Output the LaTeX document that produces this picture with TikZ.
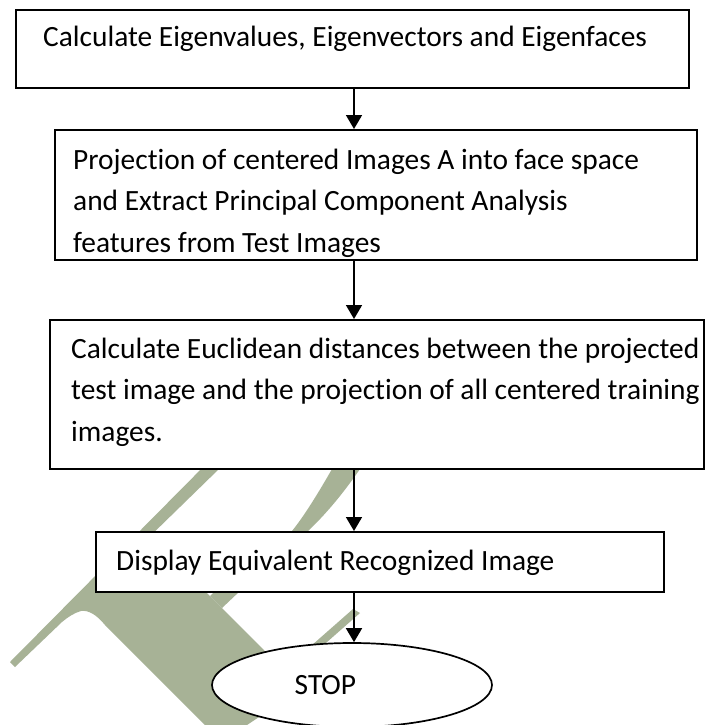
\documentclass[tikz,border=0pt]{standalone}
\usepackage{fontspec}
\setmainfont{Carlito}[Ligatures={NoCommon,NoContextual}]
\usetikzlibrary{arrows.meta,shapes.geometric}
\definecolor{wmgreen}{RGB}{167,178,150}

\begin{document}
\begin{tikzpicture}[x=1pt,y=-1pt,
  flowbox/.style={draw=black, fill=white, line width=1.7pt, inner sep=0pt, anchor=north west},
  stopshape/.style={draw=black, fill=white, line width=1.7pt, ellipse, inner sep=0pt},
  flowarrow/.style={line width=1.7pt, -{Triangle[width=16pt,length=14pt]}},
  boxtext/.style={anchor=base west, inner sep=0pt, font=\fontsize{29.4}{35}\selectfont}]

  % page
  \useasboundingbox (0,0) rectangle (715,725);
  \clip (0,0) rectangle (715,725);
  \fill[white] (0,0) rectangle (715,725);

  % watermark behind the chart: left stroke joined to the wide band
  \fill[wmgreen] (219,451) -- (237,451) -- (220,468) -- (141,545) -- (165,551)
    -- (205,591) -- (222,608) -- (262,648) -- (300,690) -- (247,725) -- (205,725)
    -- (105,625) .. controls (96,614) and (88,610) .. (81,611)
    .. controls (74,613) and (68,617) .. (62,622)
    -- (15,667) -- (10,662) -- cycle;
  % curved right stroke
  \fill[wmgreen] (376,445) -- (360,469) .. controls (342,495) and (325,515) .. (308,531)
    -- (240,591) -- (222,608) -- (210,596) -- (215,591) -- (292,531)
    .. controls (305,515) and (320,490) .. (332,469) -- (346,445) -- cycle;
  % thin stroke above the end node
  \fill[wmgreen] (353,609) -- (360,613) -- (310,657) -- (303,653) -- cycle;

  % process boxes
  \node[flowbox, minimum width=673pt, minimum height=78pt] (eig) at (15,9) {};
  \node[flowbox, minimum width=642pt, minimum height=130pt] (proj) at (54,129) {};
  \node[flowbox, minimum width=654pt, minimum height=149pt] (dist) at (49,319) {};
  \node[flowbox, minimum width=568pt, minimum height=60pt] (disp) at (95,531) {};
  \node[stopshape, minimum width=280pt, minimum height=84pt] (stop) at (352,685) {};

  % box texts
  \node[boxtext] (t1) at (43,47) {Calculate Eigenvalues, Eigenvectors and Eigenfaces};
  \node[boxtext] (t2a) at (73,169) {Projection of centered Images A into face space};
  \node[boxtext] (t2b) at (73,210.5) {and Extract Principal Component Analysis};
  \node[boxtext] (t2c) at (73,252) {features from Test Images};
  \node[boxtext] (t3a) at (71,358) {Calculate Euclidean distances between the projected};
  \node[boxtext] (t3b) at (71,399.5) {test image and the projection of all centered training};
  \node[boxtext] (t3c) at (71,441) {images.};
  \node[boxtext] (t4) at (116,570) {Display Equivalent Recognized Image};
  \node[boxtext] (t5) at (294.5,694.5) {STOP};

  % connectors
  \coordinate (ax) at (354,0);
  \draw[flowarrow] (eig.south -| ax) -- (proj.north -| ax);
  \draw[flowarrow] (proj.south -| ax) -- (dist.north -| ax);
  \draw[flowarrow] (dist.south -| ax) -- (disp.north -| ax);
  \draw[flowarrow] (disp.south -| ax) -- (stop.north -| ax);
\end{tikzpicture}
\end{document}
